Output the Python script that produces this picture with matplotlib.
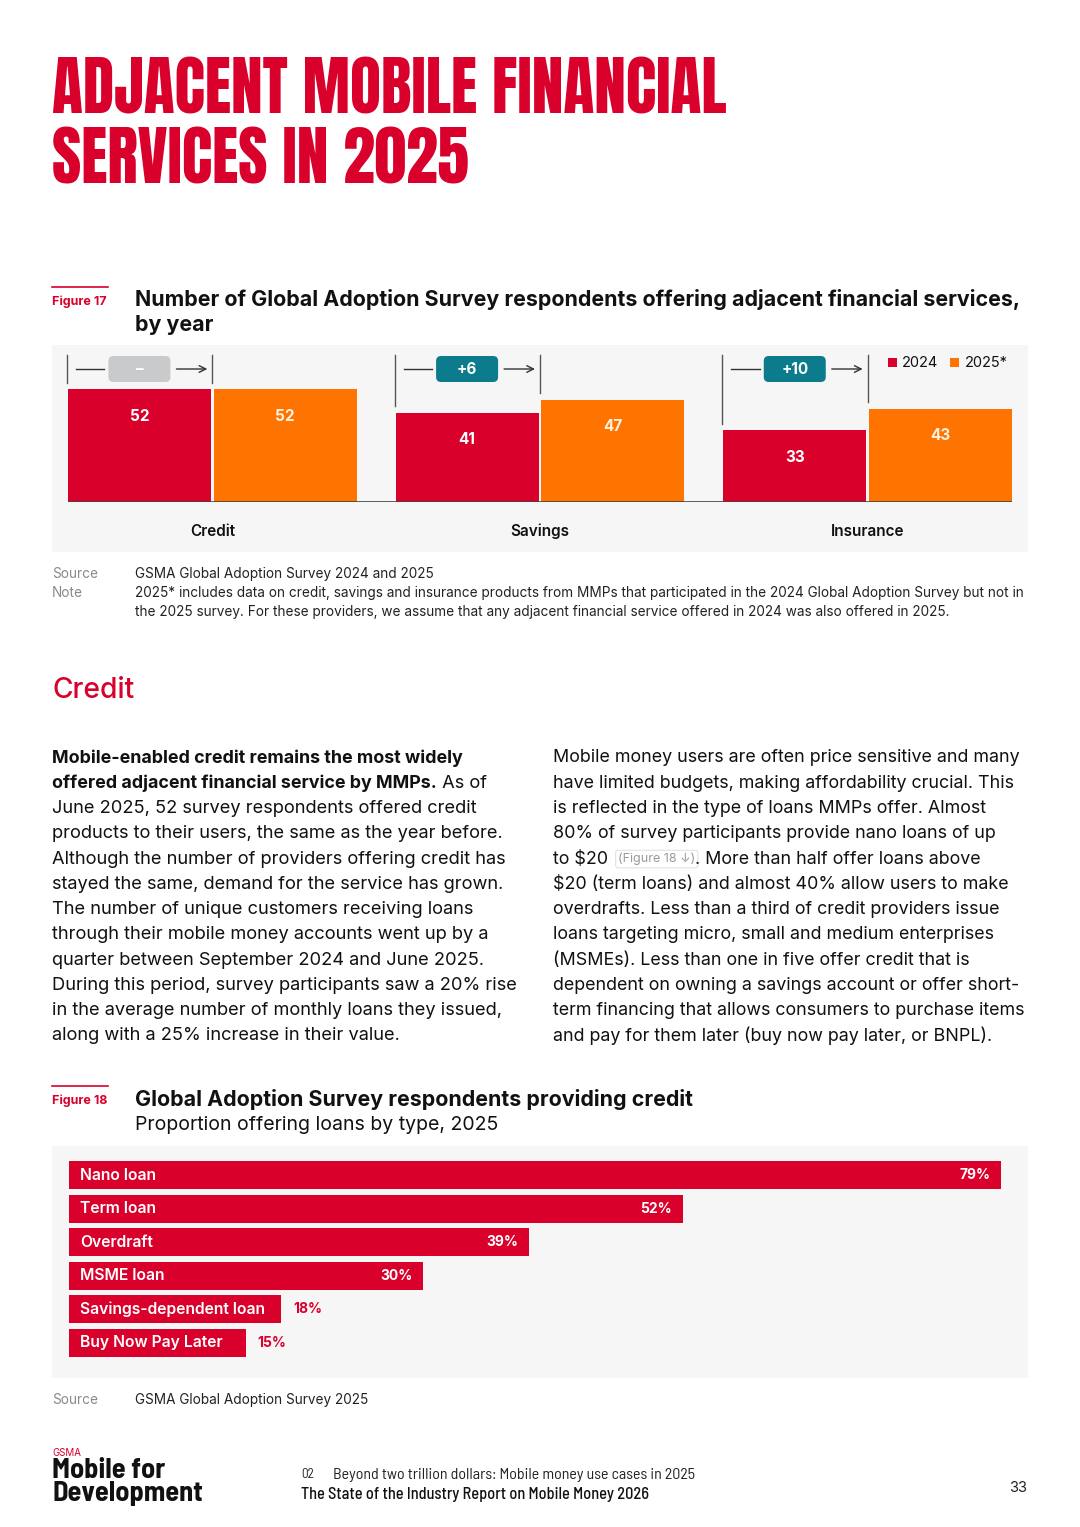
import os
import numpy as np
import matplotlib
matplotlib.use('Agg')
import matplotlib.pyplot as plt
from matplotlib import font_manager as fm
from matplotlib.patches import Rectangle, FancyBboxPatch

# figure 17 data
services = ['Credit', 'Savings', 'Insurance']
count_2024 = [52, 41, 33]
count_2025 = [52, 47, 43]

# figure 18 data
loan_types = ['Nano loan', 'Term loan', 'Overdraft', 'MSME loan',
              'Savings-dependent loan', 'Buy Now Pay Later']
loan_share = [79, 52, 39, 30, 18, 15]

RED = '#d9002b'
ORANGE = '#ff7300'
TEAL = '#0c7b8c'
GREY_BADGE = '#c8cacc'
PANEL = '#f6f6f6'
MUTED = '#8a8a8a'
INK = '#111111'

plt.rcParams['font.family'] = ['Inter', 'DejaVu Sans']

WEIGHTS = {'ultralight': 100, 'thin': 100, 'light': 300, 'normal': 400, 'regular': 400,
           'book': 400, 'roman': 400, 'medium': 500, 'semibold': 600, 'demibold': 600,
           'demi': 600, 'bold': 700, 'heavy': 800, 'extra bold': 800, 'black': 900}


def wnum(w):
    if isinstance(w, str):
        return WEIGHTS.get(w.lower(), 400)
    return int(w)


def face(families, lo, hi, heaviest=True):
    for fam in families:
        c = [f for f in fm.fontManager.ttflist
             if f.name == fam and f.style == 'normal' and lo <= wnum(f.weight) <= hi]
        if c:
            c.sort(key=lambda f: wnum(f.weight), reverse=heaviest)
            return fm.FontProperties(fname=c[0].fname)
    return fm.FontProperties(family='DejaVu Sans', weight='bold')


head_fp = face(['Anton', 'League Gothic', 'Bebas Neue', 'Oswald', 'Barlow Condensed'], 400, 1000)
logo_fp = face(['Barlow Semi Condensed', 'Barlow Condensed'], 600, 700)
foot_fp = face(['Barlow Semi Condensed', 'Barlow Condensed'], 400, 400)
footb_fp = face(['Barlow Semi Condensed', 'Barlow Condensed'], 500, 600, heaviest=False)

fig = plt.figure(figsize=(10.8, 15.27), dpi=100)
fig.patch.set_facecolor('white')
pg = fig.add_axes([0, 0, 1, 1])
pg.set_xlim(0, 1080)
pg.set_ylim(1527, 0)
pg.axis('off')
R = fig.canvas.get_renderer()


def width(t):
    return t.get_window_extent(R).width


def fit(t, target):
    t.set_fontsize(t.get_fontsize() * target / width(t))
    return t.get_fontsize()


def place(x0, y0, x1, y1):
    return fig.add_axes([x0 / 1080, 1 - y1 / 1527, (x1 - x0) / 1080, (y1 - y0) / 1527])


def to_page(ax, x, y):
    d = ax.transData.transform((x, y))
    return pg.transData.inverted().transform(d)


def chain(x, y, parts, **common):
    for s, kw in parts:
        t = pg.text(x, y, s, **{**common, **kw})
        x += width(t)
    return x


# headline
t1 = pg.text(52, 113, 'ADJACENT MOBILE FINANCIAL', color=RED, va='baseline',
             fontproperties=head_fp, fontsize=60)
hs = fit(t1, 676)
pg.text(52, 183, 'SERVICES IN 2025', color=RED, va='baseline',
        fontproperties=head_fp, fontsize=hs)

# ---------------- figure 17 ----------------
pg.plot([52, 108], [287, 287], color=RED, lw=1.2)
pg.text(52, 302, 'Figure 17', color=RED, fontsize=9, weight='bold', va='center')
tt = pg.text(135, 300, 'Number of Global Adoption Survey respondents offering adjacent financial services,',
             fontsize=14, weight='bold', va='center', color=INK)
ts = fit(tt, 885)
pg.text(135, 325, 'by year', fontsize=ts, weight='bold', va='center', color=INK)

pg.add_patch(Rectangle((52, 345), 976, 207, fc=PANEL, ec='none', zorder=0))

ax1 = place(68, 352, 1012, 502)
ax1.set_facecolor('none')
x = np.arange(len(services))
w = 0.436
off = w / 2 + 0.0045
bars24 = ax1.bar(x - off, count_2024, w, color=RED, zorder=2)
bars25 = ax1.bar(x + off, count_2025, w, color=ORANGE, zorder=2)
ax1.set_xlim(-off - w / 2, len(services) - 1 + off + w / 2)
ax1.set_ylim(0, 69.1)
ax1.axhline(0, color='#444444', lw=1.2, zorder=3)
for s in ax1.spines.values():
    s.set_visible(False)
ax1.set_yticks([])
ax1.set_xticks(x, services)
ax1.tick_params(axis='x', length=0, pad=15.5, labelsize=11, labelcolor=INK)
for lab in ax1.get_xticklabels():
    lab.set_fontweight('semibold')

for bars, vals, col in ((bars24, count_2024, 'white'), (bars25, count_2025, '#fff3e0')):
    for b, v in zip(bars, vals):
        ax1.text(b.get_x() + b.get_width() / 2, v - 12.4, str(v), ha='center', va='center',
                 color=col, weight='bold', fontsize=11, zorder=4)

top = 355
for i in range(len(services)):
    lx, _ = to_page(ax1, x[i] - off - w / 2, 0)
    rx, _ = to_page(ax1, x[i], 0)
    cx, _ = to_page(ax1, x[i] - off, 0)
    _, ly = to_page(ax1, 0, count_2024[i] + 3)
    _, ry = to_page(ax1, 0, count_2025[i] + 3)
    pg.plot([lx - 1, lx - 1], [top, ly], color='#555555', lw=1)
    pg.plot([rx, rx], [top, ry], color='#555555', lw=1)
    d = count_2025[i] - count_2024[i]
    label = '–' if d == 0 else '+%d' % d
    fc = GREY_BADGE if d == 0 else TEAL
    pg.add_patch(FancyBboxPatch((cx - 26, 361), 52, 16, boxstyle='round,pad=5',
                                fc=fc, ec='none'))
    pg.text(cx, 369, label, ha='center', va='center', color='white', weight='bold', fontsize=11)
    pg.plot([lx + 8, cx - 35], [369, 369], color='#333333', lw=1)
    pg.annotate('', xy=(rx - 5, 369), xytext=(cx + 37, 369),
                arrowprops=dict(arrowstyle='->', color='#333333', lw=1,
                                shrinkA=0, shrinkB=0, mutation_scale=12))

pg.add_patch(Rectangle((888, 358), 9, 9, fc=RED, ec='none'))
pg.text(902, 363, '2024', va='center', fontsize=10.5, color=INK)
pg.add_patch(Rectangle((950, 358), 9, 9, fc=ORANGE, ec='none'))
pg.text(965, 363, '2025*', va='center', fontsize=10.5, color=INK)

note1 = ('2025* includes data on credit, savings and insurance products from MMPs that '
         'participated in the 2024 Global Adoption Survey but not in')
note2 = ('the 2025 survey. For these providers, we assume that any adjacent financial '
         'service offered in 2024 was also offered in 2025.')
tn = pg.text(135, 593, note1, fontsize=9.5, va='center', color='#222222')
ns = fit(tn, 886)
pg.text(135, 612, note2, fontsize=ns, va='center', color='#222222')
pg.text(52, 574, 'Source', fontsize=ns, va='center', color=MUTED)
pg.text(52, 593, 'Note', fontsize=ns, va='center', color=MUTED)
pg.text(135, 574, 'GSMA Global Adoption Survey 2024 and 2025', fontsize=ns, va='center', color='#222222')

# ---------------- body text ----------------
th = pg.text(52, 690, 'Credit', color=RED, fontsize=21, va='center', weight='medium')
fit(th, 82)

left_lines = [
    None,
    None,
    'June 2025, 52 survey respondents offered credit',
    'products to their users, the same as the year before.',
    'Although the number of providers offering credit has',
    'stayed the same, demand for the service has grown.',
    'The number of unique customers receiving loans',
    'through their mobile money accounts went up by a',
    'quarter between September 2024 and June 2025.',
    'During this period, survey participants saw a 20% rise',
    'in the average number of monthly loans they issued,',
    'along with a 25% increase in their value.',
]
right_lines = [
    'Mobile money users are often price sensitive and many',
    'have limited budgets, making affordability crucial. This',
    'is reflected in the type of loans MMPs offer. Almost',
    '80% of survey participants provide nano loans of up',
    None,
    '\\$20 (term loans) and almost 40% allow users to make',
    'overdrafts. Less than a third of credit providers issue',
    'loans targeting micro, small and medium enterprises',
    '(MSMEs). Less than one in five offer credit that is',
    'dependent on owning a savings account or offer short-',
    'term financing that allows consumers to purchase items',
    'and pay for them later (buy now pay later, or BNPL).',
]
y0 = 758
tb = pg.text(553, y0, right_lines[0], fontsize=12, va='center', color=INK)
bs = fit(tb, 468)
step = 25.27
for i, s in enumerate(left_lines):
    if s:
        pg.text(52, y0 + i * step, s, fontsize=bs * 1.02, va='center', color=INK)
for i, s in enumerate(right_lines[1:], start=1):
    if s:
        pg.text(553, y0 + i * step, s, fontsize=bs, va='center', color=INK)
pg.text(52, y0, 'Mobile-enabled credit remains the most widely', fontsize=bs,
        weight='bold', va='center', color=INK)
chain(52, y0 + step, [('offered adjacent financial service by MMPs.', dict(weight='bold')),
                      (' As of', dict(fontsize=bs * 1.02))], fontsize=bs, va='center', color=INK)
chain(553, y0 + 4 * step,
      [('to \\$20  ', {}),
       ('(Figure 18 ↓)', dict(fontsize=bs * 0.7, color='#9a9a9a',
                               bbox=dict(boxstyle='round,pad=0.2', fc='none', ec='#e2e2e2', lw=0.8))),
       ('. More than half offer loans above', {})], fontsize=bs, va='center', color=INK)

# ---------------- figure 18 ----------------
pg.plot([52, 108], [1086, 1086], color=RED, lw=1.2)
pg.text(52, 1101, 'Figure 18', color=RED, fontsize=9, weight='bold', va='center')
pg.text(135, 1099, 'Global Adoption Survey respondents providing credit', fontsize=ts,
        weight='bold', va='center', color=INK)
tsub = pg.text(135, 1125, 'Proportion offering loans by type, 2025', fontsize=ts, va='center', color=INK)
fit(tsub, 363)

pg.add_patch(Rectangle((52, 1146), 976, 232, fc=PANEL, ec='none', zorder=0))

ax2 = place(69, 1158.2, 1012, 1359.8)
ax2.set_facecolor('none')
rows = np.arange(len(loan_types))
ax2.barh(rows, loan_share, height=0.83, color=RED)
ax2.set_xlim(0, 943 / 11.8)
ax2.set_ylim(len(loan_types) - 0.5, -0.5)
ax2.axis('off')
for r, name, v in zip(rows, loan_types, loan_share):
    ax2.text(0.93, r, name, color='white', va='center', fontsize=11.3, weight='semibold')
    if v >= 25:
        ax2.text(v - 0.9, r, '%d%%' % v, ha='right', va='center', color='white',
                 weight='bold', fontsize=10)
    else:
        ax2.text(v + 1.0, r, '%d%%' % v, ha='left', va='center', color=RED,
                 weight='bold', fontsize=10)

pg.text(52, 1400, 'Source', fontsize=ns, va='center', color=MUTED)
pg.text(135, 1400, 'GSMA Global Adoption Survey 2025', fontsize=ns, va='center', color='#222222')

# ---------------- footer ----------------
pg.text(52, 1453, 'GSMA', fontsize=7, color=RED, va='center')
tm = pg.text(52, 1478, 'Mobile for', fontproperties=logo_fp, fontsize=18, va='baseline', color=INK)
td = pg.text(52, 1501, 'Development', fontproperties=logo_fp, fontsize=18, va='baseline', color=INK)
fs = fit(td, 151)
tm.set_fontsize(fs)
pg.text(301, 1475, '02', fontproperties=foot_fp, fontsize=9.5, va='center', color='#222222')
tf = pg.text(333, 1475, 'Beyond two trillion dollars: Mobile money use cases in 2025',
             fontproperties=foot_fp, fontsize=9.5, va='center', color='#222222')
fit(tf, 362)
t3 = pg.text(301, 1494, 'The State of the Industry Report on Mobile Money 2026',
             fontproperties=footb_fp, fontsize=9.5, va='center', color='#111111')
fit(t3, 346)
pg.text(1027, 1488, '33', ha='right', va='center', fontsize=10.5, color='#222222')

fig.savefig('out.png', dpi=100, facecolor='white')
